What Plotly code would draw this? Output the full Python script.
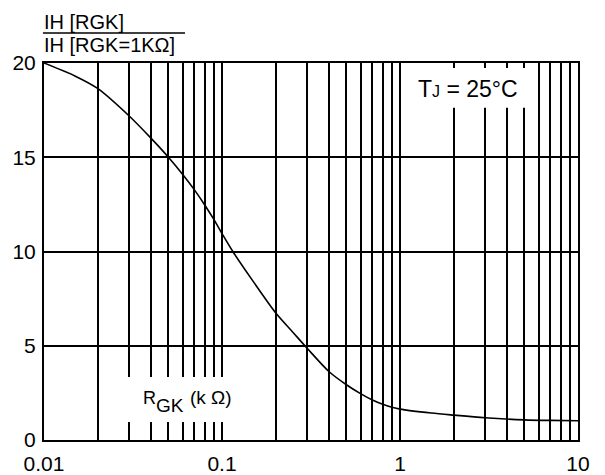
import plotly.graph_objects as go

# Curve: IH[RGK] / IH[RGK=1kΩ] vs RGK (kΩ)
rgk_kohm = [0.01, 0.015, 0.02, 0.03, 0.04, 0.05, 0.06, 0.07, 0.08, 0.09, 0.1,
            0.115, 0.15, 0.2, 0.25, 0.3, 0.4, 0.5, 0.6, 0.7, 0.8, 0.9, 1.0,
            1.5, 2.0, 3.0, 5.0, 7.0, 10.0]
ih_ratio = [20.0, 19.3, 18.65, 17.2, 16.0, 15.0, 14.1, 13.27, 12.47, 11.7, 10.95,
            10.0, 8.4, 6.75, 5.72, 4.88, 3.62, 2.93, 2.46, 2.12, 1.89, 1.74, 1.64,
            1.43, 1.32, 1.18, 1.07, 1.04, 1.02]

x_grid_vals = [m * 10 ** e for e in (-2, -1, 0) for m in range(1, 10)] + [10]
x_tick_labels = {0.01: "0.01", 0.1: "0.1", 1: "1", 10: "10"}
y_tick_vals = [0, 5, 10, 15, 20]

FONT = "Liberation Sans, Arial, Helvetica, sans-serif"


def lbl(v):
    for k, t in x_tick_labels.items():
        if abs(v - k) < 1e-9:
            return t
    return ""


fig = go.Figure()
fig.add_trace(go.Scatter(x=rgk_kohm, y=ih_ratio, mode="lines",
                         line=dict(color="black", width=1.6, shape="spline", smoothing=0.8),
                         hoverinfo="skip", showlegend=False))

fig.update_layout(
    width=605, height=475,
    margin=dict(l=44, r=27, t=63, b=35, autoexpand=False),
    paper_bgcolor="white", plot_bgcolor="white",
    font=dict(family=FONT, color="black"),
    showlegend=False,
)
fig.update_xaxes(type="log", range=[-2, 1], automargin=False,
                 tickvals=x_grid_vals, ticktext=[lbl(v) for v in x_grid_vals],
                 showgrid=True, gridcolor="black", gridwidth=1.6,
                 showline=True, linecolor="black", linewidth=2, mirror=True,
                 ticks="", tickfont=dict(size=21, color="black"),
                 ticklabelstandoff=4, zeroline=False)
fig.update_yaxes(range=[0, 20], tickvals=y_tick_vals, automargin=False,
                 ticktext=[str(v) for v in y_tick_vals],
                 showgrid=True, gridcolor="black", gridwidth=1.6,
                 showline=True, linecolor="black", linewidth=2, mirror=True,
                 ticks="", tickfont=dict(size=21, color="black"),
                 ticklabelstandoff=2, zeroline=False)

# white label boxes that interrupt the grid
fig.add_shape(type="rect", xref="paper", yref="paper",
              x0=0.105, x1=0.376, y0=0.048, y1=0.167,
              fillcolor="white", line=dict(width=0), layer="above")
fig.add_shape(type="rect", xref="paper", yref="paper",
              x0=0.682, x1=0.912, y0=0.881, y1=0.987,
              fillcolor="white", line=dict(width=0), layer="above")

# y-axis title as a fraction
fig.add_annotation(text="IH [RGK]", xref="paper", yref="paper", x=-0.004, y=1.110,
                   xanchor="left", yanchor="middle", showarrow=False,
                   font=dict(size=20, family=FONT, color="black"))
fig.add_shape(type="line", xref="paper", yref="paper", x0=-0.002, x1=0.264,
              y0=1.0796, y1=1.0796, line=dict(color="black", width=1.5))
fig.add_annotation(text="IH [RGK=1KΩ]", xref="paper", yref="paper", x=-0.004, y=1.047,
                   xanchor="left", yanchor="middle", showarrow=False,
                   font=dict(size=20, family=FONT, color="black"))

# temperature label
fig.add_annotation(text="T<span style='font-size:16px'>J</span> = 25°C",
                   xref="paper", yref="paper", x=0.696, y=0.932,
                   xanchor="left", yanchor="middle", showarrow=False,
                   font=dict(size=23, family=FONT, color="black"))

# x-axis quantity label
fig.add_annotation(text="R", xref="paper", yref="paper", x=0.181, y=0.111,
                   xanchor="left", yanchor="middle", showarrow=False,
                   font=dict(size=18, family=FONT, color="black"))
fig.add_annotation(text="GK", xref="paper", yref="paper", x=0.206, y=0.092,
                   xanchor="left", yanchor="middle", showarrow=False,
                   font=dict(size=19, family=FONT, color="black"))
fig.add_annotation(text="(k Ω)", xref="paper", yref="paper", x=0.270, y=0.114,
                   xanchor="left", yanchor="middle", showarrow=False,
                   font=dict(size=19, family=FONT, color="black"))

fig.write_html("out.html")
